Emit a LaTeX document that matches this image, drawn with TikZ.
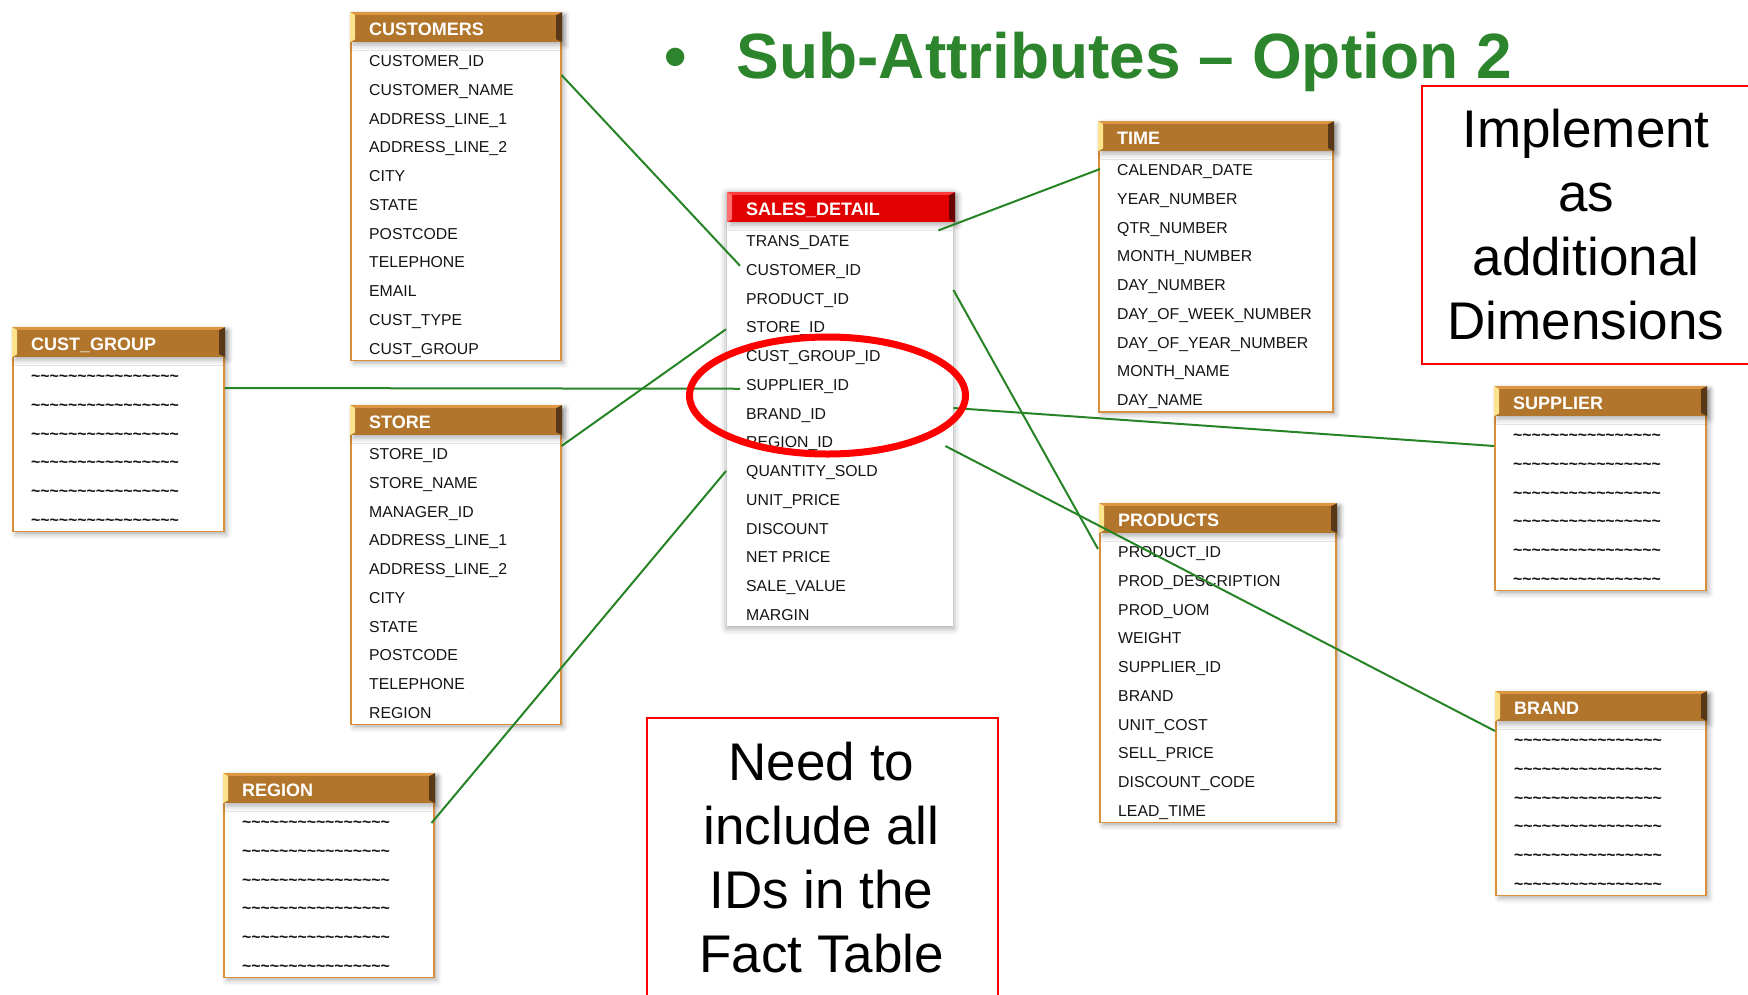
\documentclass[tikz,border=0pt]{standalone}
\usepackage{fontspec}
\setmainfont{Liberation Sans}
\usetikzlibrary{calc,shadows.blur}

\definecolor{hbrown}{RGB}{177,117,43}
\definecolor{htop}{RGB}{221,150,66}
\definecolor{hpale}{RGB}{252,228,140}
\definecolor{hdark}{RGB}{88,56,22}
\definecolor{hred}{RGB}{226,0,0}
\definecolor{hredtop}{RGB}{255,60,60}
\definecolor{hredpale}{RGB}{255,110,110}
\definecolor{hreddark}{RGB}{105,0,0}
\definecolor{bord}{RGB}{218,143,58}
\definecolor{linkgreen}{RGB}{38,132,38}
\definecolor{titlegreen}{RGB}{44,132,44}

\tikzset{
  bevel/.style n args={4}{fill=#1, path picture={
    \fill[#2] (path picture bounding box.north west) rectangle ([yshift=-2.5pt]path picture bounding box.north east);
    \fill[#3] (path picture bounding box.north west) -- ([xshift=5pt,yshift=-3pt]path picture bounding box.north west)
      -- ([xshift=5pt,yshift=3pt]path picture bounding box.south west) -- (path picture bounding box.south west) -- cycle;
    \fill[#4] (path picture bounding box.north east) -- ([xshift=-6pt,yshift=-3pt]path picture bounding box.north east)
      -- ([xshift=-6pt,yshift=3pt]path picture bounding box.south east) -- (path picture bounding box.south east) -- cycle;
  }},
  softshadow/.style={blur shadow={shadow xshift=3pt, shadow yshift=-3pt, shadow blur radius=5pt, shadow opacity=30}},
  dimhead/.style={bevel={hbrown}{htop}{hpale}{hdark}, minimum height=30pt, inner sep=0pt, anchor=north west, softshadow},
  facthead/.style={bevel={hred}{hredtop}{hredpale}{hreddark}, minimum height=30pt, inner sep=0pt, anchor=north west, softshadow},
  dimbody/.style={draw=bord, line width=1.5pt, fill=white, inner sep=0pt, anchor=north west, softshadow},
  factbody/.style={fill=white, inner sep=0pt, anchor=north west,
    blur shadow={shadow xshift=0pt, shadow yshift=-2pt, shadow blur radius=7pt, shadow opacity=40}},
  headtext/.style={text=white, font=\bfseries\fontsize{18}{21}\selectfont, inner sep=0pt,
    text height=12.9pt, text depth=0pt, anchor=west},
  rowtext/.style={text=black!92, font=\fontsize{15.8}{19}\selectfont, inner sep=0pt,
    text height=11.3pt, text depth=0pt, anchor=west},
  linkline/.style={draw=linkgreen, line width=2pt},
  notebox/.style={draw=red, line width=2pt, fill=white, inner sep=0pt, anchor=north west},
  notetext/.style={font=\fontsize{53}{64}\selectfont, align=center, inner sep=0pt, anchor=north},
  ring/.style={draw=red, line width=7pt},
  titletext/.style={text=titlegreen, font=\bfseries\fontsize{64}{70}\selectfont, inner sep=0pt, anchor=base west}
}

\newcommand\tildes{{\bfseries\textasciitilde\textasciitilde\textasciitilde\textasciitilde\textasciitilde\textasciitilde\textasciitilde\textasciitilde\textasciitilde\textasciitilde\textasciitilde\textasciitilde\textasciitilde\textasciitilde\textasciitilde\textasciitilde}}

% #1 name, #2 head style, #3 body style, #4 left, #5 top, #6 width, #7 title, #8 rows
\newcommand\dbtable[8]{%
  \xdef\nrows{0}%
  \foreach \rowtxt in {#8}{\xdef\nrows{\the\numexpr\nrows+1\relax}}%
  \pgfmathsetmacro\bodyh{60+(\nrows-1)*28.75}%
  \node[#3, minimum width=#6pt, minimum height=\bodyh pt] (#1) at (#4,#5) {};
  \node[#2, minimum width=#6pt+2pt] (#1-head) at (#4,#5) {};
  \node[headtext] (#1-title) at ([xshift=19pt,yshift=-1.5pt]#1-head.west) {#7};
  \foreach \rowtxt [count=\k] in {#8}
    \node[rowtext] (#1-\k) at (#4+19, #5+49+\k*28.75-28.75) {\rowtxt};
}

\begin{document}
\begin{tikzpicture}[x=1pt, y=-1pt]
\path[use as bounding box] (0,0) rectangle (1748,994);
\clip (0,0) rectangle (1748,994);

% title
\node[titletext] (title) at (664,78) {\textbullet\hspace{50pt}Sub-Attributes – Option 2};

% dimension tables
\dbtable{cust}{dimhead}{dimbody}{350}{12}{210}{CUSTOMERS}
  {CUSTOMER\_ID, CUSTOMER\_NAME, ADDRESS\_LINE\_1, ADDRESS\_LINE\_2, CITY, STATE, POSTCODE, TELEPHONE, EMAIL, CUST\_TYPE, CUST\_GROUP}
\dbtable{cgrp}{dimhead}{dimbody}{12}{327}{211}{CUST\_GROUP}
  {\tildes,\tildes,\tildes,\tildes,\tildes,\tildes}
\dbtable{store}{dimhead}{dimbody}{350}{405}{210}{STORE}
  {STORE\_ID, STORE\_NAME, MANAGER\_ID, ADDRESS\_LINE\_1, ADDRESS\_LINE\_2, CITY, STATE, POSTCODE, TELEPHONE, REGION}
\dbtable{region}{dimhead}{dimbody}{223}{773}{210}{REGION}
  {\tildes,\tildes,\tildes,\tildes,\tildes,\tildes}
\dbtable{time}{dimhead}{dimbody}{1098}{121}{234}{TIME}
  {CALENDAR\_DATE, YEAR\_NUMBER, QTR\_NUMBER, MONTH\_NUMBER, DAY\_NUMBER, DAY\_OF\_WEEK\_NUMBER, DAY\_OF\_YEAR\_NUMBER, MONTH\_NAME, DAY\_NAME}
\dbtable{prod}{dimhead}{dimbody}{1099}{503}{236}{PRODUCTS}
  {PRODUCT\_ID, PROD\_DESCRIPTION, PROD\_UOM, WEIGHT, SUPPLIER\_ID, BRAND, UNIT\_COST, SELL\_PRICE, DISCOUNT\_CODE, LEAD\_TIME}
\dbtable{supp}{dimhead}{dimbody}{1494}{386}{211}{SUPPLIER}
  {\tildes,\tildes,\tildes,\tildes,\tildes,\tildes}
\dbtable{brand}{dimhead}{dimbody}{1495}{691}{210}{BRAND}
  {\tildes,\tildes,\tildes,\tildes,\tildes,\tildes}

% fact table
\dbtable{sd}{facthead}{factbody}{727}{192}{226}{SALES\_DETAIL}
  {TRANS\_DATE, CUSTOMER\_ID, PRODUCT\_ID, STORE\_ID, CUST\_GROUP\_ID, SUPPLIER\_ID, BRAND\_ID, REGION\_ID, QUANTITY\_SOLD, UNIT\_PRICE, DISCOUNT, NET PRICE, SALE\_VALUE, MARGIN}

% notes
\node[notebox, minimum width=345pt, minimum height=278pt] (note-dims) at (1421,85) {};
\node[notetext] (note-dims-text) at (1586,109) {Implement\\as\\additional\\Dimensions};
\node[notebox, minimum width=351pt, minimum height=300pt] (note-ids) at (646,717) {};
\node[notetext] (note-ids-text) at (821.5,742) {Need to\\include all\\IDs in the\\Fact Table};

% joins
\draw[linkline] ([yshift=-63pt]cust.north east) -- ([xshift=-6pt,yshift=4pt]sd-2.west);
\draw[linkline] ([xshift=-17pt,yshift=-8pt]sd-head.south east) -- ([xshift=-17pt,yshift=1pt]time-1.west);
\draw[linkline] ([yshift=-98pt]sd.north east) -- ([xshift=-20pt,yshift=3pt]prod-1.west);
\draw[linkline] ([yshift=-41pt]store.north east) -- ([xshift=-20pt,yshift=-2pt]sd-4.west);
\draw[linkline] ([yshift=-61pt]cgrp.north east) -- ([xshift=-6pt,yshift=-4pt]sd-6.west);
\draw[linkline] ([yshift=-216pt]sd.north east) -- ([yshift=-60pt]supp.north west);
\draw[linkline] ([xshift=-8pt,yshift=-254pt]sd.north east) -- ([yshift=-40pt]brand.north west);
\draw[linkline] ([xshift=-3pt,yshift=-50pt]region.north east) -- ([xshift=-20pt]sd-9.west);

% highlighted new keys
\draw[ring] (827.5,395.5) ellipse [x radius=138pt, y radius=58.5pt];
\end{tikzpicture}
\end{document}
